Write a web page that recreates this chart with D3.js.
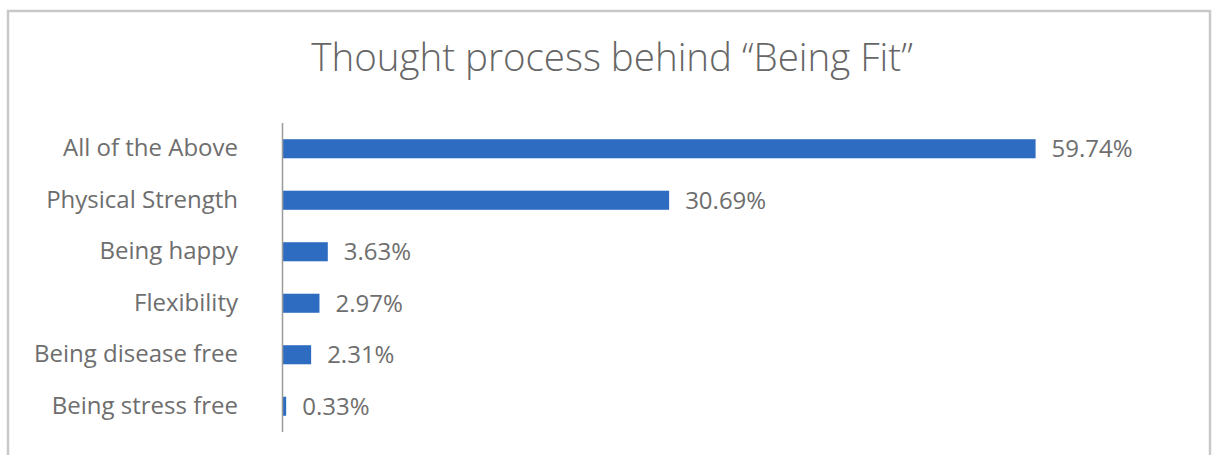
<!DOCTYPE html>
<html>
<head>
<meta charset="utf-8">
<script src="https://cdn.jsdelivr.net/npm/d3@7"></script>
<style>
  html, body { margin: 0; padding: 0; background: #fff; }
  svg { display: block; }
  text { font-family: "Open Sans", "Noto Sans", sans-serif; }
</style>
</head>
<body>
<svg id="chart" width="1213" height="455"></svg>
<script>
// Survey responses: what "being fit" means to respondents
const categories = [
  "All of the Above",
  "Physical Strength",
  "Being happy",
  "Flexibility",
  "Being disease free",
  "Being stress free"
];
const shares = [0.5974, 0.3069, 0.0363, 0.0297, 0.0231, 0.0033];
const valueLabels = ["59.74%", "30.69%", "3.63%", "2.97%", "2.31%", "0.33%"];
const title = "Thought process behind \u201CBeing Fit\u201D";

const svg = d3.select("#chart");
const W = 1213, H = 455;
const textColor = "#6e6e6e";
const barColor = "#2d6cc0";

// Chart frame (only the top, left and right edges fall inside the view)
svg.append("path")
  .attr("d", `M8,${H} V11 H1210 V${H}`)
  .attr("fill", "none")
  .attr("stroke", "#c9c9c9")
  .attr("stroke-width", 2.5);

// Title
svg.append("text")
  .attr("x", 612)
  .attr("y", 71)
  .attr("text-anchor", "middle")
  .attr("font-size", 38.5)
  .attr("font-weight", 300)
  .attr("fill", "#666")
  .text(title);

const plot = { left: 282, top: 123, bottom: 432 };

const x = d3.scaleLinear().domain([0, 0.7]).range([plot.left, 1165]);
const y = d3.scaleBand()
  .domain(categories)
  .range([plot.top, plot.bottom])
  .paddingInner(0.63)
  .paddingOuter(0.315);

const data = categories.map((c, i) => ({ cat: c, v: shares[i], label: valueLabels[i] }));

// Bars
svg.append("g")
  .selectAll("rect")
  .data(data)
  .join("rect")
  .attr("x", x(0))
  .attr("y", d => y(d.cat))
  .attr("width", d => x(d.v) - x(0))
  .attr("height", y.bandwidth())
  .attr("fill", barColor);

// Category axis
const yAxis = d3.axisLeft(y).tickSize(0).tickPadding(44);
const gy = svg.append("g")
  .attr("transform", `translate(${plot.left},0)`)
  .call(yAxis);
gy.select(".domain")
  .attr("d", `M0.5,${plot.top} V${plot.bottom}`)
  .attr("stroke", "#9a9a9a")
  .attr("stroke-width", 1.5);
gy.selectAll("text")
  .attr("font-size", 24)
  .attr("fill", textColor)
  .style("font-family", "'Open Sans', 'Noto Sans', sans-serif");

// Value labels
svg.append("g")
  .selectAll("text")
  .data(data)
  .join("text")
  .attr("x", d => x(d.v) + 16)
  .attr("y", d => y(d.cat) + y.bandwidth() / 2)
  .attr("dy", "0.35em")
  .attr("font-size", 24)
  .attr("fill", textColor)
  .text(d => d.label);
</script>
</body>
</html>
